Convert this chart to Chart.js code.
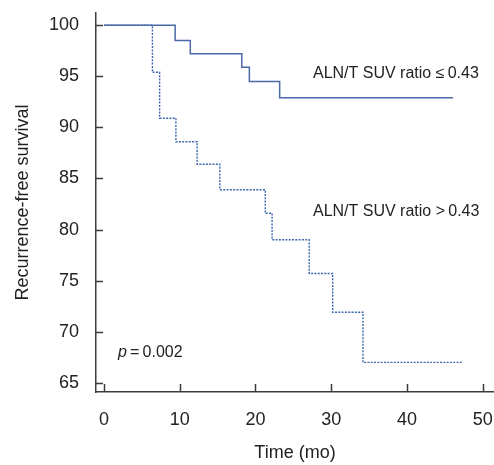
<!DOCTYPE html>
<html>
<head>
<meta charset="utf-8">
<script src="https://cdn.jsdelivr.net/npm/chart.js@4.4.1/dist/chart.umd.min.js"></script>
<style>
    html, body { margin: 0; padding: 0; background: #fff; }
    #km-chart { display: block; }
</style>
</head>
<body>
<canvas id="km-chart" width="494" height="465"></canvas>
<script>
// months / survival (%)
var lowTimes = [0, 9.4, 11.4, 18.2, 19.2, 23.2, 46.1];
var lowSurv = [100, 98.5, 97.2, 95.9, 94.5, 92.9, 92.9];
var highTimes = [0, 6.4, 7.35, 9.5, 12.3, 15.3, 21.3, 22.2, 27.1, 30.2, 34.2, 47.3];
var highSurv = [100, 95.4, 90.9, 88.6, 86.4, 83.9, 81.6, 79.0, 75.7, 71.9, 67.0, 67.0];
var xTicks = [0, 10, 20, 30, 40, 50];
var yTicks = [65, 70, 75, 80, 85, 90, 95, 100];
var lowLabel = 'ALN/T SUV ratio \u2264\u20090.43';
var highLabel = 'ALN/T SUV ratio >\u20090.43';
var pText = '0.002';

var FONT = '"Liberation Sans", Arial, sans-serif';
var AXIS_COLOR = '#3c3c3c';
var TEXT_COLOR = '#222';

function toPoints(xs, ys) {
    var pts = [];
    for (var i = 0; i < xs.length; i++) {
        pts.push({ x: xs[i], y: ys[i] });
    }
    return pts;
}

// inward tick marks + text notes
var decorations = {
    id: 'decorations',
    afterDraw: function(chart) {
        var ctx = chart.ctx;
        var xs = chart.scales.x;
        var ys = chart.scales.y;
        var area = chart.chartArea;
        ctx.save();
        ctx.strokeStyle = AXIS_COLOR;
        ctx.lineWidth = 1.5;
        ctx.beginPath();
        yTicks.forEach(function(v) {
            var py = Math.round(ys.getPixelForValue(v)) + 0.5;
            ctx.moveTo(area.left, py);
            ctx.lineTo(area.left + 7, py);
        });
        xTicks.forEach(function(v) {
            var px = Math.round(xs.getPixelForValue(v)) + 0.5;
            ctx.moveTo(px, area.bottom);
            ctx.lineTo(px, area.bottom - 8);
        });
        ctx.stroke();

        ctx.fillStyle = TEXT_COLOR;
        ctx.textBaseline = 'middle';
        ctx.textAlign = 'left';
        ctx.font = '16px ' + FONT;
        ctx.fillText(lowLabel, xs.getPixelForValue(27.6), ys.getPixelForValue(95.3));
        ctx.fillText(highLabel, xs.getPixelForValue(27.6), ys.getPixelForValue(81.8));

        var px0 = xs.getPixelForValue(1.85);
        var py0 = ys.getPixelForValue(68.0);
        ctx.font = 'italic 16px ' + FONT;
        ctx.fillText('p', px0, py0);
        var w = ctx.measureText('p').width;
        ctx.font = '16px ' + FONT;
        ctx.fillText('\u2009=\u2009' + pText, px0 + w, py0);
        ctx.restore();
    }
};

var chart = new Chart(document.getElementById('km-chart'), {
    type: 'line',
    data: {
        datasets: [
            {
                label: 'low',
                data: toPoints(lowTimes, lowSurv),
                stepped: 'before',
                borderColor: '#4a6aa8',
                borderWidth: 1.5,
                pointRadius: 0,
                fill: false
            },
            {
                label: 'high',
                data: toPoints(highTimes, highSurv),
                stepped: 'before',
                borderColor: '#3d66ad',
                borderWidth: 1.4,
                borderDash: [2, 1.3],
                pointRadius: 0,
                fill: false
            }
        ]
    },
    options: {
        responsive: false,
        animation: false,
        layout: { padding: { top: 13, right: 0, left: 0, bottom: 0 } },
        plugins: {
            legend: { display: false },
            tooltip: { enabled: false }
        },
        scales: {
            x: {
                type: 'linear',
                min: -1.05,
                max: 51.5,
                afterBuildTicks: function(scale) {
                    scale.ticks = xTicks.map(function(v) { return { value: v }; });
                },
                afterFit: function(scale) {
                    scale.height = 73;
                    scale.paddingLeft = 0;
                    scale.paddingRight = 0;
                },
                grid: { display: false, drawTicks: false },
                border: { display: true, color: AXIS_COLOR, width: 1.5 },
                ticks: {
                    padding: 17,
                    maxRotation: 0,
                    color: TEXT_COLOR,
                    font: { family: FONT, size: 18 }
                },
                title: {
                    display: true,
                    text: 'Time (mo)',
                    color: TEXT_COLOR,
                    padding: { bottom: 1, top: 0 },
                    font: { family: FONT, size: 18 }
                }
            },
            y: {
                type: 'linear',
                min: 64.1,
                max: 101.2,
                afterBuildTicks: function(scale) {
                    scale.ticks = yTicks.map(function(v) { return { value: v }; });
                },
                afterFit: function(scale) {
                    scale.width = 96;
                    scale.paddingTop = 0;
                    scale.paddingBottom = 0;
                },
                grid: { display: false, drawTicks: false },
                border: { display: true, color: AXIS_COLOR, width: 1.5 },
                ticks: {
                    padding: 17,
                    color: TEXT_COLOR,
                    font: { family: FONT, size: 18 }
                },
                title: {
                    display: true,
                    text: 'Recurrence-free survival',
                    color: TEXT_COLOR,
                    padding: { top: 12, bottom: 0 },
                    font: { family: FONT, size: 18 }
                }
            }
        }
    },
    plugins: [decorations]
});
</script>
</body>
</html>
